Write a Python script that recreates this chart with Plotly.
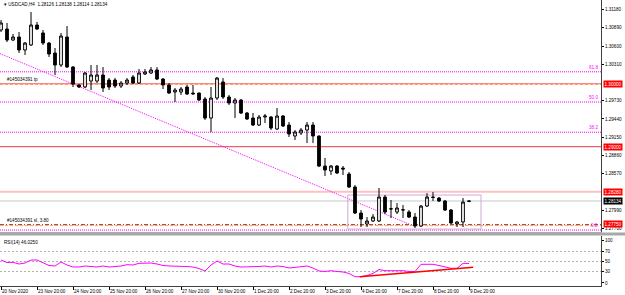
import plotly.graph_objects as go
import pandas as pd

# ---------------- data ----------------
title_text = "▾ USDCAD,H4  1.28126 1.28138 1.28114 1.28134"
first_bar = "2020-11-20 20:00"
trade_days = ["2020-11-23", "2020-11-24", "2020-11-25", "2020-11-26", "2020-11-27",
              "2020-11-30", "2020-12-01", "2020-12-02", "2020-12-03", "2020-12-04",
              "2020-12-07", "2020-12-08", "2020-12-09"]
bar_hours = [0, 4, 8, 12, 16, 20]

opens = [1.30855, 1.30871, 1.30696, 1.30744, 1.30537, 1.30617, 1.30935, 1.30808, 1.30648, 1.30489,
         1.30298, 1.30744, 1.30266, 1.29980, 1.29948, 1.30043, 1.30043, 1.30139, 1.30059, 1.30059,
         1.29964, 1.30012, 1.30107, 1.30012, 1.30155, 1.30171, 1.30219, 1.30075, 1.29980, 1.29868,
         1.29868, 1.29948, 1.29852, 1.29852, 1.29757, 1.29454, 1.29773, 1.30028, 1.29789, 1.29693,
         1.29741, 1.29534, 1.29454, 1.29343, 1.29470, 1.29470, 1.29279, 1.29486, 1.29343, 1.29168,
         1.29216, 1.29263, 1.29343, 1.29168, 1.28690, 1.28611, 1.28690, 1.28658, 1.28563, 1.28356,
         1.27942, 1.27767, 1.27815, 1.27815, 1.28197, 1.28006, 1.27958, 1.27990, 1.27958, 1.27878,
         1.27735, 1.28053, 1.28197, 1.28181, 1.28133, 1.27990, 1.27767, 1.27799, 1.28126]
highs = [1.31015, 1.30967, 1.30792, 1.30824, 1.30664, 1.31142, 1.30983, 1.30855, 1.30664, 1.30569,
         1.30808, 1.30919, 1.30282, 1.29996, 1.30187, 1.30298, 1.30298, 1.30266, 1.30091, 1.30091,
         1.30043, 1.30091, 1.30139, 1.30235, 1.30235, 1.30266, 1.30266, 1.30091, 1.30012, 1.29932,
         1.29948, 1.29980, 1.29980, 1.29860, 1.29789, 1.29948, 1.30107, 1.30091, 1.29821, 1.29773,
         1.29757, 1.29550, 1.29534, 1.29502, 1.29518, 1.29486, 1.29614, 1.29502, 1.29391, 1.29263,
         1.29295, 1.29391, 1.29391, 1.29175, 1.28818, 1.28706, 1.28706, 1.28690, 1.28595, 1.28388,
         1.27990, 1.27878, 1.27926, 1.28340, 1.28229, 1.28149, 1.28101, 1.28069, 1.27990, 1.27942,
         1.28069, 1.28260, 1.28276, 1.28197, 1.28149, 1.28006, 1.27815, 1.28181, 1.28138]
lows = [1.30824, 1.30664, 1.30680, 1.30489, 1.30457, 1.30601, 1.30855, 1.30617, 1.30426, 1.30139,
        1.30266, 1.30250, 1.29948, 1.29932, 1.29932, 1.29900, 1.30012, 1.29868, 1.29900, 1.29932,
        1.29932, 1.29980, 1.29996, 1.29996, 1.30139, 1.30155, 1.30059, 1.29916, 1.29837, 1.29709,
        1.29821, 1.29821, 1.29821, 1.29725, 1.29423, 1.29232, 1.29741, 1.29757, 1.29661, 1.29454,
        1.29518, 1.29423, 1.29327, 1.29327, 1.29375, 1.29263, 1.29263, 1.29311, 1.29152, 1.29104,
        1.29184, 1.29056, 1.29056, 1.28674, 1.28531, 1.28547, 1.28563, 1.28547, 1.28340, 1.27926,
        1.27719, 1.27719, 1.27799, 1.27799, 1.27926, 1.27862, 1.27926, 1.27862, 1.27862, 1.27703,
        1.27719, 1.28038, 1.28133, 1.28117, 1.27974, 1.27767, 1.27719, 1.27719, 1.28114]
closes = [1.30967, 1.30696, 1.30744, 1.30537, 1.30648, 1.30935, 1.30871, 1.30648, 1.30473, 1.30298,
          1.30760, 1.30266, 1.29996, 1.29948, 1.30171, 1.30139, 1.30139, 1.29932, 1.29948, 1.29964,
          1.30012, 1.30059, 1.30012, 1.30171, 1.30187, 1.30219, 1.30075, 1.29980, 1.29852, 1.29900,
          1.29916, 1.29837, 1.29840, 1.29741, 1.29454, 1.29773, 1.30091, 1.29789, 1.29693, 1.29741,
          1.29534, 1.29439, 1.29343, 1.29470, 1.29486, 1.29295, 1.29486, 1.29327, 1.29200, 1.29232,
          1.29263, 1.29343, 1.29168, 1.28690, 1.28627, 1.28690, 1.28579, 1.28643, 1.28356, 1.27942,
          1.27847, 1.27815, 1.27878, 1.28197, 1.27958, 1.28010, 1.28022, 1.27994, 1.27878, 1.27735,
          1.28053, 1.28197, 1.28190, 1.28133, 1.27990, 1.27783, 1.27799, 1.28117, 1.28134]
rsi_values = [53, 48, 48.4, 45, 47, 53, 53, 47, 42, 41,
              49, 43, 39, 39, 41, 40, 39, 41, 39, 40,
              41, 43.6, 43, 46.4, 47, 47, 45, 42, 41, 41,
              41, 40, 39, 36, 31, 43, 51, 45, 45, 41,
              39, 39, 39, 40, 41, 39, 41, 40, 37, 38,
              40, 41, 37, 31, 30, 31.6, 30, 29, 26, 19.6,
              19.6, 22, 26, 34, 31.6, 31.6, 31.6, 31.6, 30, 30,
              44.4, 44.6, 44.4, 42, 39, 36.4, 36.4, 46.4, 46.03]
rsi_label = "RSI(14) 46.0250"

price_ticks = [1.27700, 1.27990, 1.28570, 1.28860, 1.29150, 1.29440, 1.29730,
               1.30310, 1.30600, 1.30890, 1.31180]
rsi_levels = [70, 50, 30]
rsi_tick_pos = [93, 70, 50, 30, 7]
rsi_tick_text = ["100", "70", "50", "30", "0"]

fib_levels = [1.27671, 1.29228, 1.29709, 1.30190]
fib_labels = ["0.0", "38.2", "50.0", "61.8"]
red_levels = [1.30000, 1.29000]
pink_level = 1.28280
tp_level = 1.30000
sl_level = 1.27750
bid_price = 1.28134
red_price_labels = ["1.30000", "1.29000", "1.28280", "1.27750"]
red_price_values = [1.30000, 1.29000, 1.28280, 1.27750]
tp_text = "#145034391 tp"
sl_text = "#145034391 sl, 3.80"
trend_x = [-0.17, 68.2]
trend_y = [1.30480, 1.27759]
box_x = [57.8, 80.0]
box_y = [1.27687, 1.28229]
rsi_trend_x = [59.8, 78.7]
rsi_trend_y = [19.6, 38.4]

# ---------------- build ----------------
times = [pd.Timestamp(first_bar)]
for d in trade_days:
    for h in bar_hours:
        times.append(pd.Timestamp(d) + pd.Timedelta(hours=h))
idx = list(range(len(times)))

label_idx = [0] + [i for i, t in enumerate(times) if t.hour == 20 and i > 0]
label_txt = []
for i in label_idx:
    t = times[i]
    if i == 0:
        label_txt.append(f"{t.day} {t.strftime('%b %Y')}")
    else:
        label_txt.append(f"{t.day} {t.strftime('%b %H:%M')}")

FONT = "Liberation Sans"
FS = 4.6
X_RANGE = [-0.17, 100.0]

fig = go.Figure()
fig.add_trace(go.Candlestick(
    x=idx, open=opens, high=highs, low=lows, close=closes,
    increasing=dict(line=dict(color="black", width=1), fillcolor="white"),
    decreasing=dict(line=dict(color="black", width=1), fillcolor="black"),
    whiskerwidth=0, xaxis="x", yaxis="y", hoverinfo="skip", showlegend=False))
fig.add_trace(go.Scatter(x=idx, y=rsi_values, mode="lines",
                         line=dict(color="#FF00FF", width=1),
                         xaxis="x2", yaxis="y2", showlegend=False, hoverinfo="skip"))
fig.add_trace(go.Scatter(x=rsi_trend_x, y=rsi_trend_y, mode="lines",
                         line=dict(color="#FF0000", width=1.6),
                         xaxis="x2", yaxis="y2", showlegend=False, hoverinfo="skip"))

shapes = []
for lv in fib_levels:
    shapes.append(dict(type="line", xref="x domain", yref="y", x0=0, x1=1, y0=lv, y1=lv,
                       line=dict(color="#FF00FF", width=1, dash="1px,1px"), layer="below"))
shapes.append(dict(type="line", xref="x", yref="y", x0=trend_x[0], x1=trend_x[1],
                   y0=trend_y[0], y1=trend_y[1],
                   line=dict(color="#FF00FF", width=1, dash="1px,1px"), layer="below"))
for lv in red_levels:
    shapes.append(dict(type="line", xref="x domain", yref="y", x0=0, x1=1, y0=lv, y1=lv,
                       line=dict(color="#F06060", width=1.2), layer="below"))
shapes.append(dict(type="line", xref="x domain", yref="y", x0=0, x1=1, y0=pink_level, y1=pink_level,
                   line=dict(color="#FFC0C0", width=2), layer="below"))
shapes.append(dict(type="line", xref="x domain", yref="y", x0=0, x1=1, y0=tp_level - 0.00012, y1=tp_level - 0.00012,
                   line=dict(color="#FFA060", width=1, dash="3px,2px"), layer="below"))
shapes.append(dict(type="line", xref="x domain", yref="y", x0=0, x1=1, y0=sl_level + 0.00006, y1=sl_level + 0.00006,
                   line=dict(color="#8B2000", width=1, dash="4px,2px,1px,2px"), layer="below"))
shapes.append(dict(type="line", xref="x domain", yref="y", x0=0, x1=1, y0=sl_level - 0.00008, y1=sl_level - 0.00008,
                   line=dict(color="#FFA060", width=1, dash="3px,2px"), layer="below"))
shapes.append(dict(type="line", xref="x domain", yref="y", x0=0, x1=1, y0=bid_price, y1=bid_price,
                   line=dict(color="#C8C8C8", width=1), layer="below"))
shapes.append(dict(type="rect", xref="x", yref="y", x0=box_x[0], x1=box_x[1], y0=box_y[0], y1=box_y[1],
                   line=dict(color="#D0A8D8", width=1), fillcolor="rgba(0,0,0,0)", layer="below"))
for lv in rsi_levels:
    shapes.append(dict(type="line", xref="x2 domain", yref="y2", x0=0, x1=1, y0=lv, y1=lv,
                       line=dict(color="#B0B0B0", width=1, dash="2px,2px"), layer="below"))
shapes.append(dict(type="rect", xref="paper", yref="paper", x0=-0.01, x1=1.05, y0=0.1766, y1=0.1871,
                   line=dict(width=0), fillcolor="#A8A8A8"))

annotations = []
annotations.append(dict(xref="paper", yref="paper", x=0.003, y=0.999, xanchor="left", yanchor="top",
                        text=title_text, showarrow=False, font=dict(family=FONT, size=FS, color="black")))
annotations.append(dict(xref="x", yref="y", x=X_RANGE[0], y=tp_level, xanchor="left", yanchor="bottom",
                        xshift=5, yshift=0, text=tp_text, showarrow=False,
                        font=dict(family=FONT, size=FS, color="black")))
annotations.append(dict(xref="x", yref="y", x=X_RANGE[0], y=sl_level, xanchor="left", yanchor="bottom",
                        xshift=5, yshift=0, text=sl_text, showarrow=False,
                        font=dict(family=FONT, size=FS, color="black")))
for lv, lb in zip(fib_levels, fib_labels):
    annotations.append(dict(xref="x domain", yref="y", x=0.998, y=lv, xanchor="right", yanchor="bottom",
                            text=lb, showarrow=False, font=dict(family=FONT, size=FS, color="#FF00FF")))
for lv, lb in zip(red_price_values, red_price_labels):
    annotations.append(dict(xref="paper", yref="y", x=1, y=lv, xanchor="left", yanchor="middle", xshift=2,
                            yshift=1 if lv == sl_level else 0,
                            text=lb, showarrow=False, bgcolor="#FF0000", borderpad=0.5,
                            font=dict(family=FONT, size=FS, color="white")))
annotations.append(dict(xref="paper", yref="y", x=1, y=bid_price, xanchor="left", yanchor="middle", xshift=2,
                        text=f"{bid_price:.5f}", showarrow=False, bgcolor="#000000", borderpad=0.5,
                        font=dict(family=FONT, size=FS, color="white")))
annotations.append(dict(xref="paper", yref="y2 domain", x=0.004, y=0.97, xanchor="left", yanchor="top",
                        text=rsi_label, showarrow=False, font=dict(family=FONT, size=FS, color="black")))
for i, t in zip(label_idx, label_txt):
    annotations.append(dict(xref="x2", yref="paper", x=i, y=0, xanchor="left", yanchor="top",
                            xshift=-1, yshift=-1, text=t, showarrow=False,
                            font=dict(family=FONT, size=FS, color="black")))

axis_common = dict(showgrid=False, zeroline=False)
fig.update_layout(
    width=625, height=295,
    margin=dict(l=0, r=24, t=0, b=9),
    paper_bgcolor="white", plot_bgcolor="white",
    showlegend=False, boxgap=0.35,
    xaxis=dict(domain=[0, 1], anchor="y", range=X_RANGE, showticklabels=False,
               rangeslider=dict(visible=False), showline=True, linecolor="#B0B0B0",
               mirror=True, ticks="", **axis_common),
    yaxis=dict(domain=[0.1888, 1.0], anchor="x", side="right", range=[1.27640, 1.31333],
               tickvals=price_ticks, ticktext=[f"{v:.5f}" for v in price_ticks],
               tickfont=dict(family=FONT, size=FS, color="black"), ticks="outside", ticklen=2,
               tickcolor="black", showline=True, linecolor="#404040", **axis_common),
    xaxis2=dict(domain=[0, 1], anchor="y2", range=X_RANGE, matches="x", showticklabels=False,
                tickvals=label_idx, ticks="outside", ticklen=3, tickcolor="black",
                showline=True, linecolor="#404040", **axis_common),
    yaxis2=dict(domain=[0, 0.1748], anchor="x2", side="right", range=[1, 101],
                tickvals=rsi_tick_pos, ticktext=rsi_tick_text,
                tickfont=dict(family=FONT, size=FS, color="black"), ticks="outside", ticklen=2,
                tickcolor="black", showline=True, linecolor="#404040", **axis_common),
    shapes=shapes, annotations=annotations,
)

fig.write_html("out.html")
